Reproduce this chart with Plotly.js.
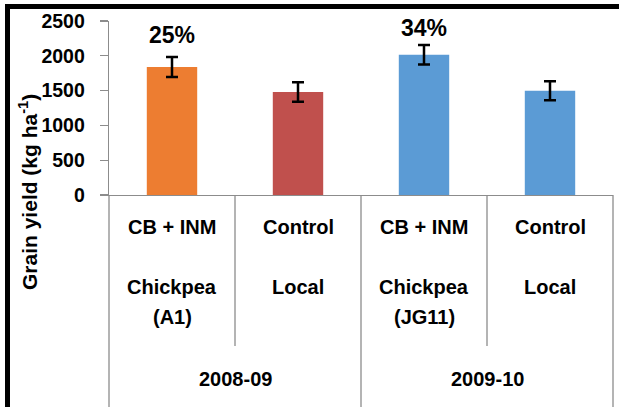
<!DOCTYPE html>
<html>
<head>
<meta charset="utf-8">
<script src="https://cdn.plot.ly/plotly-3.0.1.min.js"></script>
<style>
  html, body { margin: 0; padding: 0; background: #fff; }
  #wrap { position: relative; width: 619px; height: 407px; overflow: hidden; }
  #chart { position: absolute; left: 0; top: 0; width: 619px; height: 407px; }
  #frame { position: absolute; left: 5px; top: 4px; width: 620px; height: 410px;
           border-top: 5px solid #000; border-left: 5px solid #000; pointer-events: none; }
</style>
</head>
<body>
<div id="wrap">
  <div id="chart"></div>
  <div id="frame"></div>
</div>
<script>
// ---- data ----
const years = ["2008-09", "2009-10"];
const treatments = ["CB + INM", "Control", "CB + INM", "Control"];
const crops = [["Chickpea", "(A1)"], ["Local"], ["Chickpea", "(JG11)"], ["Local"]];
const yieldValues = [1840, 1480, 2015, 1497];
const yieldErrors = [143, 140, 140, 137];
const barColors = ["#ED7D31", "#C0504D", "#5B9BD5", "#5B9BD5"];
const increaseLabels = ["25%", "", "34%", ""];
const yTicks = [0, 500, 1000, 1500, 2000, 2500];

const idx = yieldValues.map((_, i) => i);
const nCat = idx.length;
const font = "'Liberation Sans', Arial, sans-serif";
const gridGray = "#8c8c8c";

// pixel helpers (plot area: y=0 at 195px, height 174px)
const plotH = 174;
const pyToPaper = (dy) => -dy / plotH; // dy = pixels below the x axis

const trace = {
  type: "bar",
  x: idx,
  y: yieldValues,
  width: 0.4,
  marker: { color: barColors, line: { width: 0 } },
  error_y: { type: "data", array: yieldErrors, visible: true, color: "#000", thickness: 2.5, width: 6 },
  hoverinfo: "none"
};

const annotations = [];
// percentage labels above error bars
idx.forEach(i => {
  if (increaseLabels[i]) {
    annotations.push({
      x: i, y: yieldValues[i] + yieldErrors[i], xref: "x", yref: "y",
      text: increaseLabels[i], showarrow: false, yanchor: "bottom",
      yshift: i === 0 ? 7 : 2,
      font: { family: font, size: 23, color: "#000", weight: "bold" }
    });
  }
});
// treatment labels
idx.forEach(i => {
  annotations.push({
    x: i, y: pyToPaper(31.7), xref: "x", yref: "paper", text: treatments[i],
    showarrow: false, yanchor: "middle",
    font: { family: font, size: 20, color: "#000", weight: "bold" }
  });
  crops[i].forEach((line, j) => {
    annotations.push({
      x: i, y: pyToPaper(92 + j * 29.7), xref: "x", yref: "paper", text: line,
      showarrow: false, yanchor: "middle",
      font: { family: font, size: 20, color: "#000", weight: "bold" }
    });
  });
});
// year labels
years.forEach((yr, k) => {
  annotations.push({
    x: 2 * k + 0.5, y: pyToPaper(184), xref: "x", yref: "paper", text: yr,
    showarrow: false, yanchor: "middle",
    font: { family: font, size: 20, color: "#000", weight: "bold" }
  });
});
// y-axis title
annotations.push({
  x: (28 - 109) / 504, y: (195 - 192) / plotH, xref: "paper", yref: "paper",
  text: "Grain yield (kg ha<sup>-1</sup>)", textangle: -90, showarrow: false,
  xanchor: "center", yanchor: "middle",
  font: { family: font, size: 21, color: "#000", weight: "bold" }
});

// table lines under the axis
const shapes = [];
for (let k = 0; k <= nCat; k++) {
  const full = (k % 2 === 0);
  shapes.push({
    type: "line", xref: "paper", yref: "paper",
    x0: k / nCat, x1: k / nCat, y0: 0, y1: full ? pyToPaper(215) : pyToPaper(151),
    line: { color: gridGray, width: 1.3 }
  });
}

const layout = {
  width: 619, height: 407,
  margin: { l: 109, r: 6, t: 21, b: 212, pad: 0 },
  paper_bgcolor: "#fff", plot_bgcolor: "#fff",
  showlegend: false,
  xaxis: {
    range: [-0.5, nCat - 0.5], showticklabels: false, ticks: "",
    showgrid: false, zeroline: false, showline: true, linecolor: gridGray, linewidth: 1.3,
    fixedrange: true
  },
  yaxis: {
    range: [0, 2500], tickvals: yTicks, ticktext: yTicks.map(String),
    ticks: "outside", ticklen: 8, tickcolor: gridGray, tickwidth: 1.3,
    ticklabelstandoff: 11,
    showgrid: false, zeroline: false, showline: true, linecolor: gridGray, linewidth: 1.3,
    tickfont: { family: font, size: 19.5, color: "#000", weight: "bold" },
    fixedrange: true
  },
  annotations: annotations,
  shapes: shapes
};

Plotly.newPlot("chart", [trace], layout, { displayModeBar: false, staticPlot: true });
</script>
</body>
</html>
